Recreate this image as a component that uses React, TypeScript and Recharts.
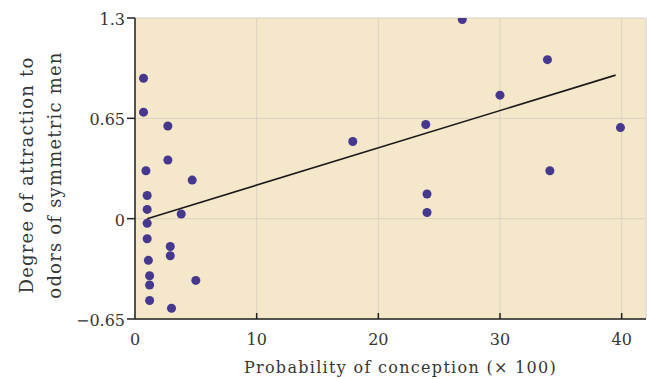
import {
  ScatterChart,
  Scatter,
  XAxis,
  YAxis,
  CartesianGrid,
  ReferenceLine,
  Label,
} from 'recharts';

// conception probability (x 100) and attraction score per woman
const probX = [
  0.7, 0.7, 2.7, 2.7, 0.9, 4.7, 1.0, 1.0, 3.8, 1.0, 1.0, 2.9, 2.9, 1.1, 1.2, 1.2,
  5.0, 1.2, 3.0, 17.9, 23.9, 24.0, 24.0, 26.9, 30.0, 33.9, 34.1, 39.9,
];
const attraction = [
  0.91, 0.69, 0.6, 0.38, 0.31, 0.25, 0.15, 0.06, 0.03, -0.03, -0.13, -0.18, -0.24,
  -0.27, -0.37, -0.43, -0.4, -0.53, -0.58, 0.5, 0.61, 0.16, 0.04, 1.29, 0.8, 1.03,
  0.31, 0.59,
];
const fitX = [1, 39.5];
const fitY = [0, 0.93];

const xTicks = [0, 10, 20, 30, 40];
const yTicks = [-0.65, 0, 0.65, 1.3];

const points = probX.map((x, i) => ({ x, y: attraction[i] }));

const FONT = '"DejaVu Serif", serif';
const TEXT = '#363636';

const XTick = (props: { x?: number; y?: number; payload?: { value: number } }) => {
  const { x = 0, y = 0, payload } = props;
  return (
    <g>
      {payload && payload.value !== 0 && (
        <line x1={x} x2={x} y1={y} y2={y - 6} stroke="#222" strokeWidth={1.5} />
      )}
      <text x={x} y={y + 26} textAnchor="middle" fontFamily={FONT} fontSize={16} fill={TEXT}>
        {payload?.value}
      </text>
    </g>
  );
};

const YTick = (props: { x?: number; y?: number; payload?: { value: number } }) => {
  const { x = 0, y = 0, payload } = props;
  const v = payload ? payload.value : 0;
  const txt = v < 0 ? `\u2212${Math.abs(v)}` : `${v}`;
  return (
    <text x={x} y={y + 7} textAnchor="end" fontFamily={FONT} fontSize={16} fill={TEXT}>
      {txt}
    </text>
  );
};

const YTitle = () => (
  <g fontFamily={FONT} fontSize={18} fill={TEXT} letterSpacing={1.2}>
    <text x={33} y={175} textAnchor="middle" transform="rotate(-90, 33, 175)">
      Degree of attraction to
    </text>
    <text x={61} y={175} textAnchor="middle" transform="rotate(-90, 61, 175)">
      odors of symmetric men
    </text>
  </g>
);

export default function App() {
  return (
    <div style={{ position: 'absolute', left: 0, top: 0, width: 647, height: 379, background: '#fff' }}>
      <ScatterChart width={647} height={379} margin={{ top: 18, right: 1, bottom: 0, left: 0 }}>
        <CartesianGrid fill="#f4e7ca" stroke="#dad2c2" strokeWidth={1} />
        <XAxis
          type="number"
          dataKey="x"
          domain={[0, 42]}
          ticks={xTicks}
          allowDataOverflow
          height={60}
          tickSize={0}
          tickMargin={0}
          tick={<XTick />}
          axisLine={{ stroke: '#222', strokeWidth: 1.5 }}
        >
          <Label
            value="Probability of conception (× 100)"
            position="insideBottom"
            offset={6}
            dx={10}
            style={{ fontFamily: FONT, fontSize: 16, fill: TEXT, letterSpacing: 1.3 }}
          />
        </XAxis>
        <YAxis
          type="number"
          dataKey="y"
          domain={[-0.65, 1.3]}
          ticks={yTicks}
          allowDataOverflow
          width={135}
          tickSize={8}
          tickMargin={2}
          tick={<YTick />}
          tickLine={{ stroke: '#222', strokeWidth: 1.5 }}
          axisLine={{ stroke: '#222', strokeWidth: 1.5 }}
        >
          <Label content={<YTitle />} />
        </YAxis>
        <ReferenceLine
          segment={[
            { x: fitX[0], y: fitY[0] },
            { x: fitX[1], y: fitY[1] },
          ]}
          stroke="#1a1a1a"
          strokeWidth={1.6}
        />
        <Scatter data={points} fill="#46378f" isAnimationActive={false} shape="circle" />
      </ScatterChart>
    </div>
  );
}
